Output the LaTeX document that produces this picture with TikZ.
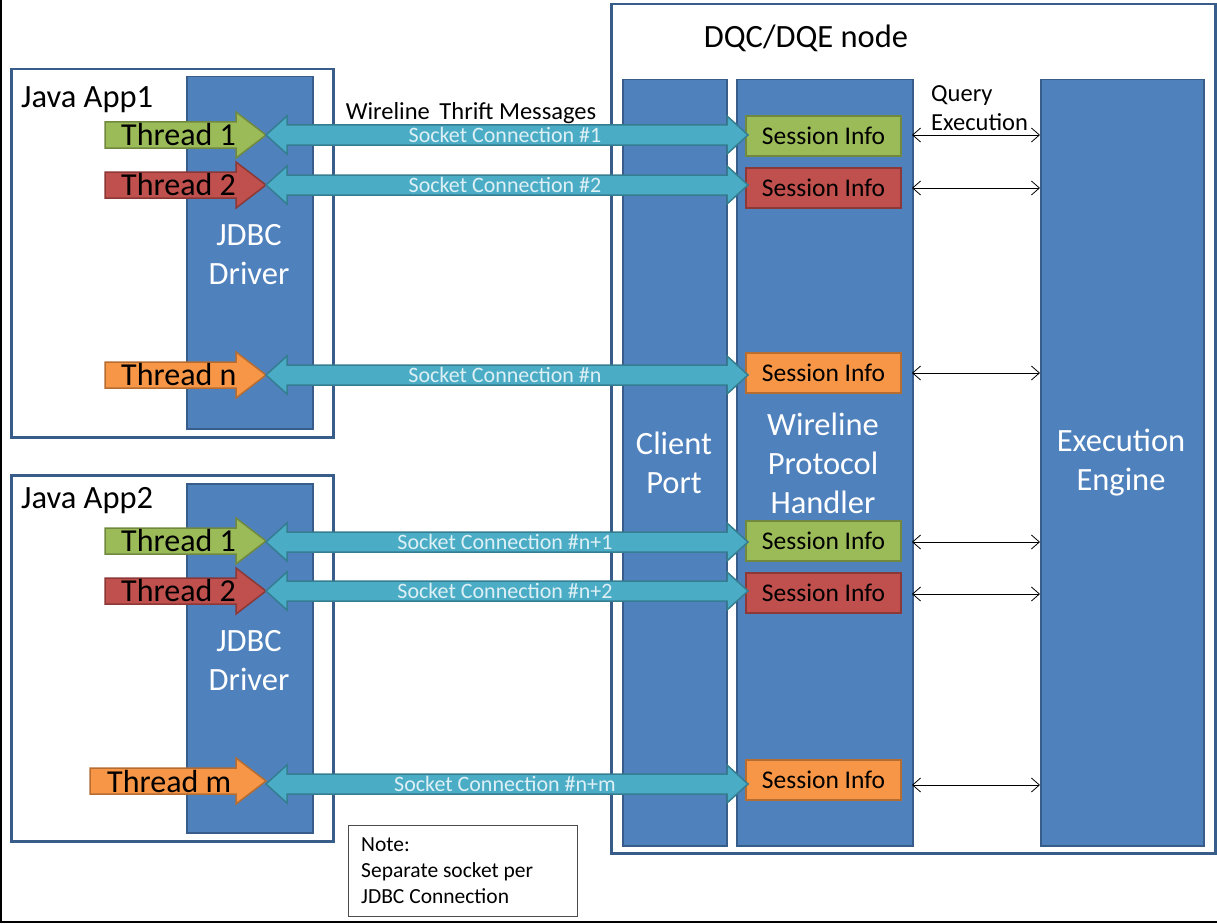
\documentclass[tikz,border=0pt]{standalone}
\usepackage{fontspec}
\setmainfont{Carlito}
\usetikzlibrary{arrows.meta}
\definecolor{blueF}{HTML}{4F81BD}
\definecolor{blueD}{HTML}{385D8A}
\definecolor{greenF}{HTML}{9BBB59}
\definecolor{greenD}{HTML}{71893F}
\definecolor{redF}{HTML}{C0504D}
\definecolor{redD}{HTML}{8C3836}
\definecolor{orangeF}{HTML}{F79646}
\definecolor{orangeD}{HTML}{B66D31}
\definecolor{tealF}{HTML}{4BACC6}
\definecolor{tealD}{HTML}{357D91}
\definecolor{socktext}{HTML}{DDF0F5}
\newcommand\blockarr[7]{%
  \draw[#1] (#2,#4-#5) -- (#3-#7,#4-#5) -- (#3-#7,#4-#6) -- (#3,#4) -- (#3-#7,#4+#6) -- (#3-#7,#4+#5) -- (#2,#4+#5) -- cycle;}
\newcommand\dblarr[7]{%
  \draw[#1] (#2,#4) -- (#2+#7,#4-#6) -- (#2+#7,#4-#5) -- (#3-#7,#4-#5) -- (#3-#7,#4-#6) -- (#3,#4) -- (#3-#7,#4+#6) -- (#3-#7,#4+#5) -- (#2+#7,#4+#5) -- (#2+#7,#4+#6) -- cycle;}
\begin{document}
\begin{tikzpicture}[x=1pt,y=-1pt,
  frame/.style={draw=blueD, line width=2.5pt, inner sep=0pt, anchor=north west},
  col/.style={draw=blueD, fill=blueF, line width=1.5pt, inner sep=0pt, anchor=north west},
  bigtxt/.style={font=\fontsize{32.5}{39}\selectfont, align=center},
  whitetxt/.style={bigtxt, text=white},
  sess/.style={line width=2pt, inner sep=0pt, minimum width=155pt, minimum height=40pt, font=\fontsize{25.5}{30}\selectfont},
  sgreen/.style={sess, draw=greenD, fill=greenF},
  sred/.style={sess, draw=redD, fill=redF},
  sorange/.style={sess, draw=orangeD, fill=orangeF},
  thr/.style={font=\fontsize{32}{36}\selectfont, anchor=west, inner sep=0pt},
  tgreen/.style={draw=greenD, fill=greenF, line width=1.5pt},
  tred/.style={draw=redD, fill=redF, line width=1.5pt},
  torange/.style={draw=orangeD, fill=orangeF, line width=1.5pt},
  sock/.style={draw=tealD, fill=tealF, line width=1.5pt},
  socktxt/.style={font=\fontsize{22}{26}\selectfont, text=socktext, inner sep=0pt},
  qarr/.style={line width=0.8pt, {Straight Barb[length=8pt,width=14pt]}-{Straight Barb[length=8pt,width=14pt]}}
]
\useasboundingbox (0,0) rectangle (1217,923);
\draw[black, line width=2pt] (1,0) -- (1,921.5) -- (1217,921.5);

% Java apps
\node[frame, minimum width=322pt, minimum height=368pt] (app1) at (10,68) {};
\node[col, minimum width=126pt, minimum height=352pt] (jdbc1) at (186,76) {};
\node[frame, minimum width=322pt, minimum height=366pt] (app2) at (10,474) {};
\node[col, minimum width=126pt, minimum height=349pt] (jdbc2) at (186,483) {};
\node[bigtxt, anchor=west, inner sep=0pt] (app1lbl) at (21,100) {Java App1};
\node[bigtxt, anchor=west, inner sep=0pt] (app2lbl) at (21,501) {Java App2};
\node[whitetxt] (jdbc1lbl) at (249,255) {JDBC\\Driver};
\node[whitetxt] (jdbc2lbl) at (249,661) {JDBC\\Driver};

% DQC/DQE node
\node[frame, minimum width=604pt, minimum height=849pt] (dqc) at (610,3) {};
\node[bigtxt] (dqclbl) at (806,38) {DQC/DQE node};
\node[col, minimum width=104pt, minimum height=766pt] (cport) at (622,79) {};
\node[col, minimum width=176pt, minimum height=766pt] (wph) at (736,79) {};
\node[col, minimum width=163pt, minimum height=766pt] (exec) at (1040,79) {};
\node[whitetxt] (cportlbl) at (674,463) {Client\\Port};
\node[whitetxt] (wphlbl) at (823,463) {Wireline\\Protocol\\Handler};
\node[whitetxt] (execlbl) at (1121,463) {Execution\\Engine};

% session info boxes
\node[sgreen]  (s1) at (823.5,136) {Session Info};
\node[sred]    (s2) at (823.5,188) {Session Info};
\node[sorange] (s3) at (823.5,373) {Session Info};
\node[sgreen]  (s4) at (823.5,541) {Session Info};
\node[sred]    (s5) at (823.5,593) {Session Info};
\node[sorange] (s6) at (823.5,780) {Session Info};

% thread arrows
\blockarr{tgreen}{105}{266}{135}{13}{23}{30}
\blockarr{tred}{105}{266}{185}{13}{23}{30}
\blockarr{torange}{105}{266}{375}{13}{23}{30}
\blockarr{tgreen}{105}{266}{541}{13}{23}{30}
\blockarr{tred}{105}{266}{591}{13}{23}{30}
\blockarr{torange}{90}{266}{781}{13}{23}{30}
\node[thr] (t1) at (121,135) {Thread 1};
\node[thr] (t2) at (121,185) {Thread 2};
\node[thr] (t3) at (121,375) {Thread n};
\node[thr] (t4) at (121,541) {Thread 1};
\node[thr] (t5) at (121,591) {Thread 2};
\node[thr] (t6) at (107,781) {Thread m};

% socket double arrows
\dblarr{sock}{266}{748}{135}{10}{19}{21}
\dblarr{sock}{266}{748}{185}{10}{19}{21}
\dblarr{sock}{266}{748}{375}{10}{19}{21}
\dblarr{sock}{266}{748}{542}{10}{19}{21}
\dblarr{sock}{266}{748}{591}{10}{19}{21}
\dblarr{sock}{266}{748}{784}{10}{19}{21}
\node[socktxt] (c1) at (505,135) {Socket Connection \#1};
\node[socktxt] (c2) at (505,185) {Socket Connection \#2};
\node[socktxt] (c3) at (505,375) {Socket Connection \#n};
\node[socktxt] (c4) at (505,542) {Socket Connection \#n+1};
\node[socktxt] (c5) at (505,591) {Socket Connection \#n+2};
\node[socktxt] (c6) at (505,784) {Socket Connection \#n+m};
\node[font=\fontsize{24.5}{28}\selectfont] (wtm) at (471,113) {Wireline\, Thrift Messages};

% query execution arrows
\coordinate (q1a) at (912,135);  \coordinate (q1b) at (1040,135);
\coordinate (q2a) at (912,188);  \coordinate (q2b) at (1040,188);
\coordinate (q3a) at (912,373);  \coordinate (q3b) at (1040,373);
\coordinate (q4a) at (912,542);  \coordinate (q4b) at (1040,542);
\coordinate (q5a) at (912,594);  \coordinate (q5b) at (1040,594);
\coordinate (q6a) at (912,785);  \coordinate (q6b) at (1040,785);
\foreach \i in {1,...,6} { \draw[qarr] (q\i a) -- (q\i b); }
\node[font=\fontsize{24.5}{29}\selectfont, align=left, anchor=west, inner sep=0pt] (qe) at (931,108) {Query\\Execution};

% note
\node[draw=black!70, line width=1pt, anchor=north west, minimum width=229pt, minimum height=91pt, inner sep=0pt] (note) at (348,825) {};
\node[font=\fontsize{21.5}{26}\selectfont, align=left, anchor=west, inner sep=0pt] (notetxt) at (361,871) {Note:\\Separate socket per\\JDBC Connection};
\end{tikzpicture}
\end{document}
